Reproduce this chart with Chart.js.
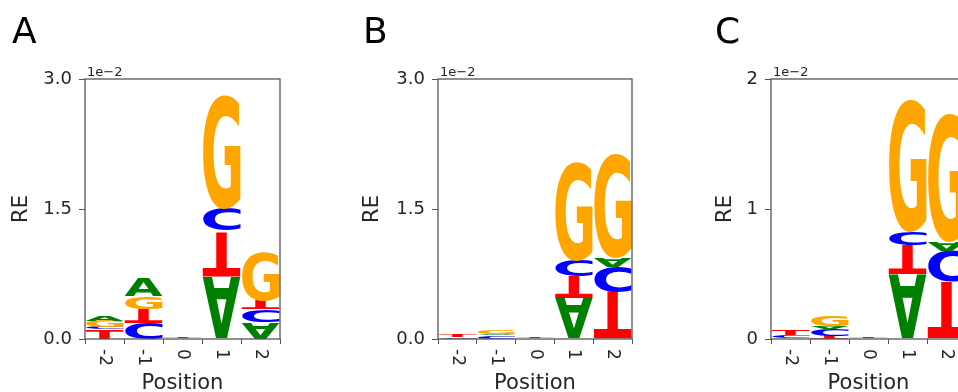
<!DOCTYPE html>
<html>
<head>
<meta charset="utf-8">
<script src="https://cdn.jsdelivr.net/npm/chart.js@4"></script>
<style>
  html, body { margin: 0; padding: 0; background: #fff; overflow: hidden; width: 958px; height: 392px; }
  canvas { position: absolute; top: 0; }
</style>
</head>
<body>
<canvas id="panel-a" width="300" height="392" style="left:0px"></canvas>
<canvas id="panel-b" width="300" height="392" style="left:340px"></canvas>
<canvas id="panel-c" width="300" height="392" style="left:680px"></canvas>
<script>
// Sequence positions (x categories)
const positions = ['-2', '-1', '0', '1', '2'];

// Panel A: letters per position, bottom to top, and their heights (x 1e-2)
const lettersA = [['T', 'C', 'G', 'A'], ['C', 'T', 'G', 'A'], ['A', 'C', 'G', 'T'], ['A', 'T', 'C', 'G'], ['A', 'C', 'T', 'G']];
const heightsA = [[0.11, 0.025, 0.07, 0.065], [0.185, 0.16, 0.145, 0.21], [0.002, 0.002, 0.002, 0.01], [0.72, 0.52, 0.27, 1.31], [0.19, 0.145, 0.11, 0.56]];

// Panel B
const lettersB = [['A', 'C', 'G', 'T'], ['T', 'C', 'A', 'G'], ['A', 'C', 'G', 'T'], ['A', 'T', 'C', 'G'], ['T', 'C', 'A', 'G']];
const heightsB = [[0.005, 0.015, 0.002, 0.035], [0.01, 0.03, 0.02, 0.05], [0.002, 0.002, 0.002, 0.008], [0.48, 0.25, 0.18, 1.14], [0.55, 0.29, 0.10, 1.20]];

// Panel C
const lettersC = [['A', 'C', 'G', 'T'], ['T', 'C', 'A', 'G'], ['A', 'C', 'G', 'T'], ['A', 'T', 'C', 'G'], ['T', 'C', 'A', 'G']];
const heightsC = [[0.005, 0.02, 0.002, 0.04], [0.03, 0.05, 0.02, 0.08], [0.002, 0.002, 0.002, 0.008], [0.505, 0.22, 0.10, 1.02], [0.44, 0.24, 0.07, 0.99]];

// Y axis ticks per panel
const yTicksA = ['0.0', '1.5', '3.0'];
const yTicksB = ['0.0', '1.5', '3.0'];
const yTicksC = ['0', '1', '2'];

const letterColors = { A: '#008000', C: '#0000ff', G: '#ffa500', T: '#ff0000' };
const textColor = '#262626';
const frameColor = '#555555';

// Draw one letter stretched to fill a box
function drawGlyph(ctx, letter, left, top, width, height, flip) {
    ctx.font = 'bold 100px "DejaVu Sans"';
    ctx.textAlign = 'left';
    ctx.textBaseline = 'alphabetic';
    const m = ctx.measureText(letter);
    const gw = m.actualBoundingBoxLeft + m.actualBoundingBoxRight;
    const gh = m.actualBoundingBoxAscent + m.actualBoundingBoxDescent;
    ctx.save();
    if (flip) {
        ctx.translate(left, top + height);
        ctx.scale(width / gw, -height / gh);
    } else {
        ctx.translate(left, top);
        ctx.scale(width / gw, height / gh);
    }
    ctx.fillStyle = letterColors[letter];
    ctx.fillText(letter, m.actualBoundingBoxLeft, m.actualBoundingBoxAscent);
    ctx.restore();
}

const logoPlugin = {
    id: 'logo',
    afterDatasetsDraw(chart) {
        const ctx = chart.ctx;
        const letters = chart.options.plugins.logo.letters;
        chart.data.datasets.forEach((ds, k) => {
            chart.getDatasetMeta(k).data.forEach((bar, i) => {
                const p = bar.getProps(['x', 'y', 'base', 'width'], true);
                const letter = letters[i][k];
                const isTop = k === letters[i].length - 1;
                // lower A/C/T glyphs are drawn upside down, as in the figure
                const flip = !isTop && letter !== 'G' && i !== 0;
                const top = Math.min(p.y, p.base);
                const h = Math.abs(p.base - p.y);
                if (h <= 0) return;
                drawGlyph(ctx, letter, p.x - p.width / 2, top, p.width, h, flip);
            });
        });
    },
    afterDraw(chart) {
        const ctx = chart.ctx;
        const opts = chart.options.plugins.logo;
        const area = chart.chartArea;
        const xScale = chart.scales.x;

        // frame
        ctx.save();
        ctx.strokeStyle = frameColor;
        ctx.lineWidth = 1.3;
        ctx.strokeRect(area.left, area.top, area.right - area.left, area.bottom - area.top);

        // x tick labels, rotated to read top to bottom
        ctx.fillStyle = textColor;
        ctx.font = '17px "DejaVu Sans"';
        ctx.textAlign = 'left';
        ctx.textBaseline = 'middle';
        positions.forEach((label, i) => {
            const x = xScale.getPixelForValue(i);
            ctx.save();
            ctx.translate(x, area.bottom + 10);
            ctx.rotate(Math.PI / 2);
            ctx.fillText(label, 0, 0);
            ctx.restore();
        });

        // x title
        ctx.font = '21px "DejaVu Sans"';
        ctx.textAlign = 'center';
        ctx.textBaseline = 'alphabetic';
        ctx.fillText('Position', (area.left + area.right) / 2, 389);

        // y title
        ctx.save();
        ctx.translate(opts.reX, (area.top + area.bottom) / 2);
        ctx.rotate(-Math.PI / 2);
        ctx.textBaseline = 'middle';
        ctx.fillText('RE', 0, 0);
        ctx.restore();

        // offset text
        ctx.font = '13px "DejaVu Sans"';
        ctx.textAlign = 'left';
        ctx.fillText('1e\u22122', area.left + 2, 76);

        // panel letter
        ctx.fillStyle = '#000';
        ctx.font = '36px "DejaVu Sans"';
        ctx.fillText(opts.panel, opts.labelX, 43);
        ctx.restore();
    }
};

function makePanel(canvasId, letters, heights, yTicks, layout) {
    const yMax = parseFloat(yTicks[yTicks.length - 1]);
    const yStep = yMax / (yTicks.length - 1);
    const datasets = [0, 1, 2, 3].map((k) => ({
        label: 'rank' + k,
        data: heights.map((h) => h[k]),
        backgroundColor: 'rgba(0,0,0,0)',
        borderWidth: 0,
        barPercentage: 0.97,
        categoryPercentage: 1.0,
    }));
    return new Chart(document.getElementById(canvasId), {
        type: 'bar',
        data: { labels: positions, datasets },
        options: {
            responsive: false,
            animation: false,
            events: [],
            layout: { padding: { top: 79, left: 0, right: 300 - layout.plotRight, bottom: 0 } },
            plugins: {
                legend: { display: false },
                tooltip: { enabled: false },
                logo: { letters, panel: layout.panel, labelX: layout.labelX, reX: layout.reX },
            },
            scales: {
                x: {
                    stacked: true,
                    offset: true,
                    grid: { display: true, drawOnChartArea: false, drawTicks: true, tickLength: 5, color: frameColor },
                    border: { display: false },
                    ticks: { display: false },
                    afterFit: (s) => { s.height = 53; },
                },
                y: {
                    stacked: true,
                    min: 0,
                    max: yMax,
                    grid: { display: true, drawOnChartArea: false, drawTicks: true, tickLength: 6, color: frameColor },
                    border: { display: false },
                    ticks: {
                        stepSize: yStep,
                        padding: 7,
                        color: textColor,
                        font: { family: 'DejaVu Sans', size: 18 },
                        callback: (v) => yTicks[Math.round(v / yStep)],
                    },
                    afterFit: (s) => { s.width = layout.plotLeft; },
                },
            },
        },
        plugins: [logoPlugin],
    });
}

makePanel('panel-a', lettersA, heightsA, yTicksA, { panel: 'A', plotLeft: 85, plotRight: 280, labelX: 12, reX: 22 });
makePanel('panel-b', lettersB, heightsB, yTicksB, { panel: 'B', plotLeft: 98, plotRight: 292, labelX: 23, reX: 33 });
makePanel('panel-c', lettersC, heightsC, yTicksC, { panel: 'C', plotLeft: 91, plotRight: 286, labelX: 35, reX: 46 });
</script>
</body>
</html>
